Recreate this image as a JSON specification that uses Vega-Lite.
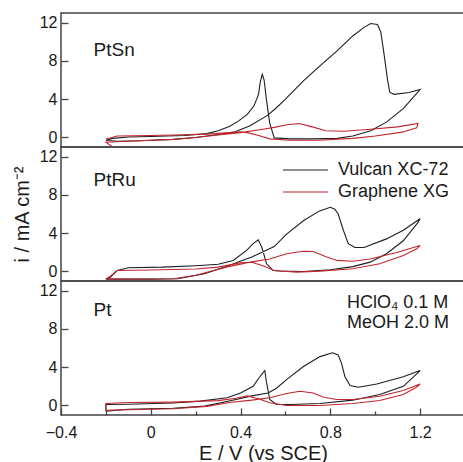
{
"$schema":"https://vega.github.io/schema/vega-lite/v6.json",
"padding":{"left":11,"top":12,"right":0,"bottom":0},
"bounds":"flush",
"config":{
 "font":"Liberation Sans",
 "view":{"stroke":"#444","strokeWidth":1.5},
 "axis":{"labelFont":"Liberation Sans","labelFontSize":16,"labelColor":"#1a1a1a","titleFont":"Liberation Sans","titleFontSize":20,"titleFontWeight":"normal","titleColor":"#1a1a1a","tickColor":"#444","tickWidth":1.3,"grid":false,"domain":false},
 "text":{"font":"Liberation Sans","fill":"#1a1a1a"}
},
"data":{"values":[
{"p":"PtSn","s":"Vulcan XC-72","k":0,"E":-0.2,"i":-0.3},
{"p":"PtSn","s":"Vulcan XC-72","k":1,"E":-0.15,"i":-0.4},
{"p":"PtSn","s":"Vulcan XC-72","k":2,"E":-0.05,"i":-0.35},
{"p":"PtSn","s":"Vulcan XC-72","k":3,"E":0.1,"i":-0.2},
{"p":"PtSn","s":"Vulcan XC-72","k":4,"E":0.2,"i":0.0},
{"p":"PtSn","s":"Vulcan XC-72","k":5,"E":0.3,"i":0.3},
{"p":"PtSn","s":"Vulcan XC-72","k":6,"E":0.37,"i":0.55},
{"p":"PtSn","s":"Vulcan XC-72","k":7,"E":0.44,"i":1.2},
{"p":"PtSn","s":"Vulcan XC-72","k":8,"E":0.52,"i":2.3},
{"p":"PtSn","s":"Vulcan XC-72","k":9,"E":0.56,"i":3.1},
{"p":"PtSn","s":"Vulcan XC-72","k":10,"E":0.6,"i":4.0},
{"p":"PtSn","s":"Vulcan XC-72","k":11,"E":0.68,"i":5.9},
{"p":"PtSn","s":"Vulcan XC-72","k":12,"E":0.75,"i":7.4},
{"p":"PtSn","s":"Vulcan XC-72","k":13,"E":0.83,"i":9.05},
{"p":"PtSn","s":"Vulcan XC-72","k":14,"E":0.9,"i":10.6},
{"p":"PtSn","s":"Vulcan XC-72","k":15,"E":0.95,"i":11.5},
{"p":"PtSn","s":"Vulcan XC-72","k":16,"E":0.98,"i":11.9},
{"p":"PtSn","s":"Vulcan XC-72","k":17,"E":1.01,"i":11.8},
{"p":"PtSn","s":"Vulcan XC-72","k":18,"E":1.025,"i":11.0},
{"p":"PtSn","s":"Vulcan XC-72","k":19,"E":1.04,"i":8.6},
{"p":"PtSn","s":"Vulcan XC-72","k":20,"E":1.055,"i":6.0},
{"p":"PtSn","s":"Vulcan XC-72","k":21,"E":1.065,"i":4.7},
{"p":"PtSn","s":"Vulcan XC-72","k":22,"E":1.085,"i":4.5},
{"p":"PtSn","s":"Vulcan XC-72","k":23,"E":1.15,"i":4.7},
{"p":"PtSn","s":"Vulcan XC-72","k":24,"E":1.2,"i":5.0},
{"p":"PtSn","s":"Vulcan XC-72","k":25,"E":1.17,"i":4.2},
{"p":"PtSn","s":"Vulcan XC-72","k":26,"E":1.125,"i":3.0},
{"p":"PtSn","s":"Vulcan XC-72","k":27,"E":1.05,"i":1.6},
{"p":"PtSn","s":"Vulcan XC-72","k":28,"E":0.98,"i":0.7},
{"p":"PtSn","s":"Vulcan XC-72","k":29,"E":0.9,"i":0.15},
{"p":"PtSn","s":"Vulcan XC-72","k":30,"E":0.83,"i":-0.1},
{"p":"PtSn","s":"Vulcan XC-72","k":31,"E":0.72,"i":-0.15},
{"p":"PtSn","s":"Vulcan XC-72","k":32,"E":0.62,"i":-0.15},
{"p":"PtSn","s":"Vulcan XC-72","k":33,"E":0.55,"i":-0.05},
{"p":"PtSn","s":"Vulcan XC-72","k":34,"E":0.53,"i":1.5},
{"p":"PtSn","s":"Vulcan XC-72","k":35,"E":0.515,"i":4.0},
{"p":"PtSn","s":"Vulcan XC-72","k":36,"E":0.505,"i":6.0},
{"p":"PtSn","s":"Vulcan XC-72","k":37,"E":0.497,"i":6.6},
{"p":"PtSn","s":"Vulcan XC-72","k":38,"E":0.488,"i":5.8},
{"p":"PtSn","s":"Vulcan XC-72","k":39,"E":0.48,"i":4.5},
{"p":"PtSn","s":"Vulcan XC-72","k":40,"E":0.46,"i":3.3},
{"p":"PtSn","s":"Vulcan XC-72","k":41,"E":0.43,"i":2.4},
{"p":"PtSn","s":"Vulcan XC-72","k":42,"E":0.39,"i":1.7},
{"p":"PtSn","s":"Vulcan XC-72","k":43,"E":0.35,"i":1.15},
{"p":"PtSn","s":"Vulcan XC-72","k":44,"E":0.3,"i":0.7},
{"p":"PtSn","s":"Vulcan XC-72","k":45,"E":0.25,"i":0.4},
{"p":"PtSn","s":"Vulcan XC-72","k":46,"E":0.15,"i":0.2},
{"p":"PtSn","s":"Vulcan XC-72","k":47,"E":0.0,"i":0.1},
{"p":"PtSn","s":"Vulcan XC-72","k":48,"E":-0.1,"i":0.05},
{"p":"PtSn","s":"Vulcan XC-72","k":49,"E":-0.17,"i":-0.1},
{"p":"PtSn","s":"Vulcan XC-72","k":50,"E":-0.2,"i":-0.3},
{"p":"PtSn","s":"Graphene XG","k":0,"E":-0.17,"i":-1.0},
{"p":"PtSn","s":"Graphene XG","k":1,"E":-0.2,"i":-0.5},
{"p":"PtSn","s":"Graphene XG","k":2,"E":-0.1,"i":-0.4},
{"p":"PtSn","s":"Graphene XG","k":3,"E":0.0,"i":-0.3},
{"p":"PtSn","s":"Graphene XG","k":4,"E":0.1,"i":-0.2},
{"p":"PtSn","s":"Graphene XG","k":5,"E":0.2,"i":0.0},
{"p":"PtSn","s":"Graphene XG","k":6,"E":0.3,"i":0.25},
{"p":"PtSn","s":"Graphene XG","k":7,"E":0.4,"i":0.5},
{"p":"PtSn","s":"Graphene XG","k":8,"E":0.5,"i":0.85},
{"p":"PtSn","s":"Graphene XG","k":9,"E":0.55,"i":1.05},
{"p":"PtSn","s":"Graphene XG","k":10,"E":0.6,"i":1.3},
{"p":"PtSn","s":"Graphene XG","k":11,"E":0.66,"i":1.45},
{"p":"PtSn","s":"Graphene XG","k":12,"E":0.72,"i":1.1},
{"p":"PtSn","s":"Graphene XG","k":13,"E":0.78,"i":0.7},
{"p":"PtSn","s":"Graphene XG","k":14,"E":0.86,"i":0.65},
{"p":"PtSn","s":"Graphene XG","k":15,"E":0.98,"i":0.85},
{"p":"PtSn","s":"Graphene XG","k":16,"E":1.1,"i":1.1},
{"p":"PtSn","s":"Graphene XG","k":17,"E":1.19,"i":1.47},
{"p":"PtSn","s":"Graphene XG","k":18,"E":1.185,"i":1.0},
{"p":"PtSn","s":"Graphene XG","k":19,"E":1.12,"i":0.55},
{"p":"PtSn","s":"Graphene XG","k":20,"E":1.0,"i":0.15},
{"p":"PtSn","s":"Graphene XG","k":21,"E":0.9,"i":-0.1},
{"p":"PtSn","s":"Graphene XG","k":22,"E":0.75,"i":-0.3},
{"p":"PtSn","s":"Graphene XG","k":23,"E":0.62,"i":-0.3},
{"p":"PtSn","s":"Graphene XG","k":24,"E":0.53,"i":-0.15},
{"p":"PtSn","s":"Graphene XG","k":25,"E":0.48,"i":0.2},
{"p":"PtSn","s":"Graphene XG","k":26,"E":0.43,"i":0.5},
{"p":"PtSn","s":"Graphene XG","k":27,"E":0.4,"i":0.6},
{"p":"PtSn","s":"Graphene XG","k":28,"E":0.35,"i":0.5},
{"p":"PtSn","s":"Graphene XG","k":29,"E":0.25,"i":0.35},
{"p":"PtSn","s":"Graphene XG","k":30,"E":0.1,"i":0.25},
{"p":"PtSn","s":"Graphene XG","k":31,"E":0.0,"i":0.2},
{"p":"PtSn","s":"Graphene XG","k":32,"E":-0.15,"i":0.15},
{"p":"PtSn","s":"Graphene XG","k":33,"E":-0.2,"i":-0.2},
{"p":"PtRu","s":"Vulcan XC-72","k":0,"E":-0.2,"i":-0.8},
{"p":"PtRu","s":"Vulcan XC-72","k":1,"E":0.0,"i":-0.8},
{"p":"PtRu","s":"Vulcan XC-72","k":2,"E":0.12,"i":-0.76},
{"p":"PtRu","s":"Vulcan XC-72","k":3,"E":0.24,"i":-0.25},
{"p":"PtRu","s":"Vulcan XC-72","k":4,"E":0.345,"i":0.6},
{"p":"PtRu","s":"Vulcan XC-72","k":5,"E":0.45,"i":1.5},
{"p":"PtRu","s":"Vulcan XC-72","k":6,"E":0.55,"i":2.6},
{"p":"PtRu","s":"Vulcan XC-72","k":7,"E":0.605,"i":3.9},
{"p":"PtRu","s":"Vulcan XC-72","k":8,"E":0.68,"i":5.3},
{"p":"PtRu","s":"Vulcan XC-72","k":9,"E":0.75,"i":6.3},
{"p":"PtRu","s":"Vulcan XC-72","k":10,"E":0.8,"i":6.7},
{"p":"PtRu","s":"Vulcan XC-72","k":11,"E":0.82,"i":6.5},
{"p":"PtRu","s":"Vulcan XC-72","k":12,"E":0.835,"i":6.0},
{"p":"PtRu","s":"Vulcan XC-72","k":13,"E":0.858,"i":4.3},
{"p":"PtRu","s":"Vulcan XC-72","k":14,"E":0.88,"i":2.9},
{"p":"PtRu","s":"Vulcan XC-72","k":15,"E":0.91,"i":2.5},
{"p":"PtRu","s":"Vulcan XC-72","k":16,"E":0.95,"i":2.5},
{"p":"PtRu","s":"Vulcan XC-72","k":17,"E":1.05,"i":3.4},
{"p":"PtRu","s":"Vulcan XC-72","k":18,"E":1.125,"i":4.3},
{"p":"PtRu","s":"Vulcan XC-72","k":19,"E":1.2,"i":5.5},
{"p":"PtRu","s":"Vulcan XC-72","k":20,"E":1.19,"i":5.1},
{"p":"PtRu","s":"Vulcan XC-72","k":21,"E":1.125,"i":3.2},
{"p":"PtRu","s":"Vulcan XC-72","k":22,"E":1.05,"i":1.85},
{"p":"PtRu","s":"Vulcan XC-72","k":23,"E":0.977,"i":0.97},
{"p":"PtRu","s":"Vulcan XC-72","k":24,"E":0.9,"i":0.5},
{"p":"PtRu","s":"Vulcan XC-72","k":25,"E":0.8,"i":0.18},
{"p":"PtRu","s":"Vulcan XC-72","k":26,"E":0.68,"i":0.0},
{"p":"PtRu","s":"Vulcan XC-72","k":27,"E":0.575,"i":0.05},
{"p":"PtRu","s":"Vulcan XC-72","k":28,"E":0.545,"i":0.1},
{"p":"PtRu","s":"Vulcan XC-72","k":29,"E":0.516,"i":0.8},
{"p":"PtRu","s":"Vulcan XC-72","k":30,"E":0.495,"i":2.5},
{"p":"PtRu","s":"Vulcan XC-72","k":31,"E":0.479,"i":3.3},
{"p":"PtRu","s":"Vulcan XC-72","k":32,"E":0.456,"i":2.9},
{"p":"PtRu","s":"Vulcan XC-72","k":33,"E":0.427,"i":2.2},
{"p":"PtRu","s":"Vulcan XC-72","k":34,"E":0.367,"i":1.15},
{"p":"PtRu","s":"Vulcan XC-72","k":35,"E":0.3,"i":0.75},
{"p":"PtRu","s":"Vulcan XC-72","k":36,"E":0.2,"i":0.6},
{"p":"PtRu","s":"Vulcan XC-72","k":37,"E":0.05,"i":0.45},
{"p":"PtRu","s":"Vulcan XC-72","k":38,"E":-0.1,"i":0.38},
{"p":"PtRu","s":"Vulcan XC-72","k":39,"E":-0.15,"i":0.1},
{"p":"PtRu","s":"Vulcan XC-72","k":40,"E":-0.18,"i":-0.6},
{"p":"PtRu","s":"Vulcan XC-72","k":41,"E":-0.2,"i":-0.8},
{"p":"PtRu","s":"Graphene XG","k":0,"E":-0.2,"i":-0.8},
{"p":"PtRu","s":"Graphene XG","k":1,"E":0.1,"i":-0.76},
{"p":"PtRu","s":"Graphene XG","k":2,"E":0.2,"i":-0.4},
{"p":"PtRu","s":"Graphene XG","k":3,"E":0.345,"i":0.5},
{"p":"PtRu","s":"Graphene XG","k":4,"E":0.45,"i":1.0},
{"p":"PtRu","s":"Graphene XG","k":5,"E":0.53,"i":1.3},
{"p":"PtRu","s":"Graphene XG","k":6,"E":0.605,"i":1.85},
{"p":"PtRu","s":"Graphene XG","k":7,"E":0.68,"i":2.1},
{"p":"PtRu","s":"Graphene XG","k":8,"E":0.724,"i":2.08},
{"p":"PtRu","s":"Graphene XG","k":9,"E":0.784,"i":1.5},
{"p":"PtRu","s":"Graphene XG","k":10,"E":0.83,"i":1.15},
{"p":"PtRu","s":"Graphene XG","k":11,"E":0.9,"i":1.07},
{"p":"PtRu","s":"Graphene XG","k":12,"E":0.977,"i":1.3},
{"p":"PtRu","s":"Graphene XG","k":13,"E":1.1,"i":2.0},
{"p":"PtRu","s":"Graphene XG","k":14,"E":1.2,"i":2.7},
{"p":"PtRu","s":"Graphene XG","k":15,"E":1.185,"i":2.36},
{"p":"PtRu","s":"Graphene XG","k":16,"E":1.125,"i":1.67},
{"p":"PtRu","s":"Graphene XG","k":17,"E":1.02,"i":0.8},
{"p":"PtRu","s":"Graphene XG","k":18,"E":0.9,"i":0.28},
{"p":"PtRu","s":"Graphene XG","k":19,"E":0.754,"i":0.03},
{"p":"PtRu","s":"Graphene XG","k":20,"E":0.65,"i":-0.07},
{"p":"PtRu","s":"Graphene XG","k":21,"E":0.55,"i":0.1},
{"p":"PtRu","s":"Graphene XG","k":22,"E":0.5,"i":0.6},
{"p":"PtRu","s":"Graphene XG","k":23,"E":0.45,"i":0.95},
{"p":"PtRu","s":"Graphene XG","k":24,"E":0.4,"i":0.9},
{"p":"PtRu","s":"Graphene XG","k":25,"E":0.3,"i":0.45},
{"p":"PtRu","s":"Graphene XG","k":26,"E":0.2,"i":0.25},
{"p":"PtRu","s":"Graphene XG","k":27,"E":0.0,"i":0.15},
{"p":"PtRu","s":"Graphene XG","k":28,"E":-0.15,"i":0.1},
{"p":"PtRu","s":"Graphene XG","k":29,"E":-0.18,"i":-0.5},
{"p":"PtRu","s":"Graphene XG","k":30,"E":-0.2,"i":-0.8},
{"p":"Pt","s":"Vulcan XC-72","k":0,"E":-0.2,"i":-0.6},
{"p":"Pt","s":"Vulcan XC-72","k":1,"E":-0.1,"i":-0.4},
{"p":"Pt","s":"Vulcan XC-72","k":2,"E":0.1,"i":-0.3},
{"p":"Pt","s":"Vulcan XC-72","k":3,"E":0.24,"i":-0.07},
{"p":"Pt","s":"Vulcan XC-72","k":4,"E":0.375,"i":0.6},
{"p":"Pt","s":"Vulcan XC-72","k":5,"E":0.45,"i":1.0},
{"p":"Pt","s":"Vulcan XC-72","k":6,"E":0.523,"i":1.3},
{"p":"Pt","s":"Vulcan XC-72","k":7,"E":0.56,"i":1.8},
{"p":"Pt","s":"Vulcan XC-72","k":8,"E":0.605,"i":2.7},
{"p":"Pt","s":"Vulcan XC-72","k":9,"E":0.68,"i":4.06},
{"p":"Pt","s":"Vulcan XC-72","k":10,"E":0.754,"i":5.1},
{"p":"Pt","s":"Vulcan XC-72","k":11,"E":0.81,"i":5.5},
{"p":"Pt","s":"Vulcan XC-72","k":12,"E":0.835,"i":5.27},
{"p":"Pt","s":"Vulcan XC-72","k":13,"E":0.85,"i":4.4},
{"p":"Pt","s":"Vulcan XC-72","k":14,"E":0.865,"i":3.0},
{"p":"Pt","s":"Vulcan XC-72","k":15,"E":0.888,"i":2.07},
{"p":"Pt","s":"Vulcan XC-72","k":16,"E":0.925,"i":1.9},
{"p":"Pt","s":"Vulcan XC-72","k":17,"E":1.007,"i":2.24},
{"p":"Pt","s":"Vulcan XC-72","k":18,"E":1.125,"i":3.0},
{"p":"Pt","s":"Vulcan XC-72","k":19,"E":1.2,"i":3.65},
{"p":"Pt","s":"Vulcan XC-72","k":20,"E":1.185,"i":3.3},
{"p":"Pt","s":"Vulcan XC-72","k":21,"E":1.125,"i":2.0},
{"p":"Pt","s":"Vulcan XC-72","k":22,"E":1.02,"i":1.14},
{"p":"Pt","s":"Vulcan XC-72","k":23,"E":0.9,"i":0.55},
{"p":"Pt","s":"Vulcan XC-72","k":24,"E":0.754,"i":0.2},
{"p":"Pt","s":"Vulcan XC-72","k":25,"E":0.62,"i":0.1},
{"p":"Pt","s":"Vulcan XC-72","k":26,"E":0.56,"i":0.1},
{"p":"Pt","s":"Vulcan XC-72","k":27,"E":0.53,"i":0.62},
{"p":"Pt","s":"Vulcan XC-72","k":28,"E":0.515,"i":2.5},
{"p":"Pt","s":"Vulcan XC-72","k":29,"E":0.508,"i":3.65},
{"p":"Pt","s":"Vulcan XC-72","k":30,"E":0.496,"i":3.3},
{"p":"Pt","s":"Vulcan XC-72","k":31,"E":0.486,"i":3.0},
{"p":"Pt","s":"Vulcan XC-72","k":32,"E":0.456,"i":2.0},
{"p":"Pt","s":"Vulcan XC-72","k":33,"E":0.4,"i":1.3},
{"p":"Pt","s":"Vulcan XC-72","k":34,"E":0.34,"i":0.8},
{"p":"Pt","s":"Vulcan XC-72","k":35,"E":0.22,"i":0.45},
{"p":"Pt","s":"Vulcan XC-72","k":36,"E":0.1,"i":0.25},
{"p":"Pt","s":"Vulcan XC-72","k":37,"E":-0.1,"i":0.12},
{"p":"Pt","s":"Vulcan XC-72","k":38,"E":-0.2,"i":0.1},
{"p":"Pt","s":"Vulcan XC-72","k":39,"E":-0.2,"i":-0.6},
{"p":"Pt","s":"Graphene XG","k":0,"E":-0.2,"i":-0.5},
{"p":"Pt","s":"Graphene XG","k":1,"E":-0.1,"i":-0.45},
{"p":"Pt","s":"Graphene XG","k":2,"E":0.1,"i":-0.35},
{"p":"Pt","s":"Graphene XG","k":3,"E":0.25,"i":-0.1},
{"p":"Pt","s":"Graphene XG","k":4,"E":0.35,"i":0.3},
{"p":"Pt","s":"Graphene XG","k":5,"E":0.45,"i":0.55},
{"p":"Pt","s":"Graphene XG","k":6,"E":0.53,"i":0.8},
{"p":"Pt","s":"Graphene XG","k":7,"E":0.605,"i":1.24},
{"p":"Pt","s":"Graphene XG","k":8,"E":0.665,"i":1.48},
{"p":"Pt","s":"Graphene XG","k":9,"E":0.724,"i":1.3},
{"p":"Pt","s":"Graphene XG","k":10,"E":0.77,"i":0.86},
{"p":"Pt","s":"Graphene XG","k":11,"E":0.83,"i":0.62},
{"p":"Pt","s":"Graphene XG","k":12,"E":0.9,"i":0.62},
{"p":"Pt","s":"Graphene XG","k":13,"E":1.02,"i":0.96},
{"p":"Pt","s":"Graphene XG","k":14,"E":1.125,"i":1.55},
{"p":"Pt","s":"Graphene XG","k":15,"E":1.2,"i":2.24},
{"p":"Pt","s":"Graphene XG","k":16,"E":1.185,"i":1.93},
{"p":"Pt","s":"Graphene XG","k":17,"E":1.125,"i":1.14},
{"p":"Pt","s":"Graphene XG","k":18,"E":1.02,"i":0.52},
{"p":"Pt","s":"Graphene XG","k":19,"E":0.9,"i":0.2},
{"p":"Pt","s":"Graphene XG","k":20,"E":0.754,"i":0.0},
{"p":"Pt","s":"Graphene XG","k":21,"E":0.605,"i":0.0},
{"p":"Pt","s":"Graphene XG","k":22,"E":0.53,"i":0.28},
{"p":"Pt","s":"Graphene XG","k":23,"E":0.48,"i":0.7},
{"p":"Pt","s":"Graphene XG","k":24,"E":0.43,"i":1.0},
{"p":"Pt","s":"Graphene XG","k":25,"E":0.38,"i":0.75},
{"p":"Pt","s":"Graphene XG","k":26,"E":0.3,"i":0.5},
{"p":"Pt","s":"Graphene XG","k":27,"E":0.1,"i":0.35},
{"p":"Pt","s":"Graphene XG","k":28,"E":-0.1,"i":0.3},
{"p":"Pt","s":"Graphene XG","k":29,"E":-0.2,"i":0.2},
{"p":"Pt","s":"Graphene XG","k":30,"E":-0.2,"i":-0.5}
]},
"spacing":0,
"resolve":{"legend":{"color":"independent"}},
"vconcat":[
{
 "width":404,"height":134,
 "layer":[
  {"transform":[{"filter":"datum.p === 'PtSn'"}],
   "mark":{"type":"line","strokeWidth":1.1,"clip":true},
   "encoding":{
    "x":{"field":"E","type":"quantitative","scale":{"domain":[-0.4,1.4],"nice":false,"zero":false},"axis":null},
    "y":{"field":"i","type":"quantitative","scale":{"domain":[-1,13],"nice":false,"zero":false},
         "axis":{"title":null,"values":[0,2,4,6,8,10,12],"labelExpr":"datum.value % 4 === 0 ? datum.label : ''","tickSize":{"condition":{"test":"datum.value % 4 === 0","value":-7},"value":-4},"labelPadding":11}},
    "color":{"field":"s","type":"nominal","scale":{"domain":["Vulcan XC-72","Graphene XG"],"range":["#1e1e1e","#c0262d"]},"legend":null},
    "order":{"field":"k","type":"quantitative"}
   }},
  {"data":{"values":[{}]},
   "mark":{"type":"text","text":"PtSn","align":"left","baseline":"middle","fontSize":19},
   "encoding":{"x":{"datum":-0.255},"y":{"datum":9.1}}}
 ]
},
{
 "width":404,"height":134,
 "layer":[
  {"transform":[{"filter":"datum.p === 'PtRu'"}],
   "mark":{"type":"line","strokeWidth":1.1,"clip":true},
   "encoding":{
    "x":{"field":"E","type":"quantitative","scale":{"domain":[-0.4,1.4],"nice":false,"zero":false},"axis":null},
    "y":{"field":"i","type":"quantitative","scale":{"domain":[-1,13],"nice":false,"zero":false},
         "axis":{"title":"i / mA cm⁻²","titlePadding":7,"values":[0,2,4,6,8,10,12],"labelExpr":"datum.value % 4 === 0 ? datum.label : ''","tickSize":{"condition":{"test":"datum.value % 4 === 0","value":-7},"value":-4},"labelPadding":11}},
    "color":{"field":"s","type":"nominal","scale":{"domain":["Vulcan XC-72","Graphene XG"],"range":["#1e1e1e","#c0262d"]},
      "legend":{"orient":"none","legendX":221,"legendY":12,"title":null,"symbolType":"stroke","symbolSize":2025,"symbolStrokeWidth":1.2,"clipHeight":22,"rowPadding":0,"labelFontSize":18,"labelFont":"Liberation Sans","labelColor":"#1a1a1a","labelOffset":9,"padding":0}},
    "order":{"field":"k","type":"quantitative"}
   }},
  {"data":{"values":[{}]},
   "mark":{"type":"text","text":"PtRu","align":"left","baseline":"middle","fontSize":19},
   "encoding":{"x":{"datum":-0.255},"y":{"datum":9.6}}}
 ]
},
{
 "width":404,"height":134,
 "layer":[
  {"transform":[{"filter":"datum.p === 'Pt'"}],
   "mark":{"type":"line","strokeWidth":1.1,"clip":true},
   "encoding":{
    "x":{"field":"E","type":"quantitative","scale":{"domain":[-0.4,1.4],"nice":false,"zero":false},
         "axis":{"title":"E / V (vs SCE)","titlePadding":3,"values":[-0.4,-0.2,0,0.2,0.4,0.6,0.8,1.0,1.2,1.4],"format":"~g","labelFlush":false,"labelExpr":"round(datum.value*10) % 4 === 0 ? datum.label : ''","tickSize":{"condition":{"test":"round(datum.value*10) % 4 === 0","value":-7},"value":-4},"labelPadding":16}},
    "y":{"field":"i","type":"quantitative","scale":{"domain":[-1,13],"nice":false,"zero":false},
         "axis":{"title":null,"values":[0,2,4,6,8,10,12],"labelExpr":"datum.value % 4 === 0 ? datum.label : ''","tickSize":{"condition":{"test":"datum.value % 4 === 0","value":-7},"value":-4},"labelPadding":11}},
    "color":{"field":"s","type":"nominal","scale":{"domain":["Vulcan XC-72","Graphene XG"],"range":["#1e1e1e","#c0262d"]},"legend":null},
    "order":{"field":"k","type":"quantitative"}
   }},
  {"data":{"values":[{}]},
   "mark":{"type":"text","text":"Pt","align":"left","baseline":"middle","fontSize":19},
   "encoding":{"x":{"datum":-0.255},"y":{"datum":10.0}}},
  {"data":{"values":[{}]},
   "mark":{"type":"text","text":"HClO₄ 0.1 M","align":"left","baseline":"middle","fontSize":18},
   "encoding":{"x":{"datum":0.874},"y":{"datum":10.75}}},
  {"data":{"values":[{}]},
   "mark":{"type":"text","text":"MeOH 2.0 M","align":"left","baseline":"middle","fontSize":18},
   "encoding":{"x":{"datum":0.874},"y":{"datum":8.58}}}
 ]
}
]
}
